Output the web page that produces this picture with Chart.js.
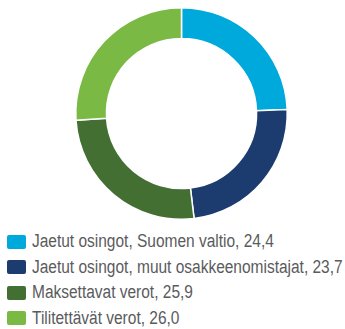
<!DOCTYPE html>
<html>
<head>
<meta charset="utf-8">
<script src="https://cdn.jsdelivr.net/npm/chart.js@4/dist/chart.umd.min.js"></script>
<style>
  html, body { margin: 0; padding: 0; background: #fff; }
  #wrap { position: relative; width: 345px; height: 329px; overflow: hidden; }
  #chartBox { position: absolute; left: 0; top: 0; width: 345px; height: 220px; }
  #legend { position: absolute; left: 7px; top: 229px; }
  .row { display: flex; align-items: center; height: 25.5px; }
  .swatch { width: 19px; height: 14px; border-radius: 2px; margin-right: 6px; flex: none; }
  .label { font-family: "Liberation Sans", Arial, sans-serif; font-size: 18px; color: #5a5b5d;
           white-space: nowrap; display: inline-block; transform: scaleX(0.86); transform-origin: left center; }
</style>
</head>
<body>
<div id="wrap">
  <div id="chartBox"><canvas id="taxChart"></canvas></div>
  <div id="legend"></div>
</div>
<script>
const categories = [
  'Jaetut osingot, Suomen valtio',
  'Jaetut osingot, muut osakkeenomistajat',
  'Maksettavat verot',
  'Tilitettävät verot'
];
const values = [24.4, 23.7, 25.9, 26.0];
const colors = ['#00a9dc', '#1c3b6e', '#436f33', '#7ab943'];

const fmt = v => v.toFixed(1).replace('.', ',');

// legend rows under the ring
const legend = document.getElementById('legend');
categories.forEach((cat, i) => {
  const row = document.createElement('div');
  row.className = 'row';
  row.innerHTML = `<span class="swatch" style="background:${colors[i]}"></span>` +
    `<span class="label">${cat}, ${fmt(values[i])}</span>`;
  legend.appendChild(row);
});

new Chart(document.getElementById('taxChart'), {
  type: 'doughnut',
  data: {
    labels: categories,
    datasets: [{
      data: values,
      backgroundColor: colors,
      borderColor: '#ffffff',
      borderWidth: 1.5
    }]
  },
  options: {
    responsive: true,
    maintainAspectRatio: false,
    animation: false,
    cutout: '71%',
    layout: { padding: { left: 18, top: 7, right: 0, bottom: 0 } },
    plugins: {
      legend: { display: false },
      tooltip: { enabled: false }
    }
  }
});
</script>
</body>
</html>
